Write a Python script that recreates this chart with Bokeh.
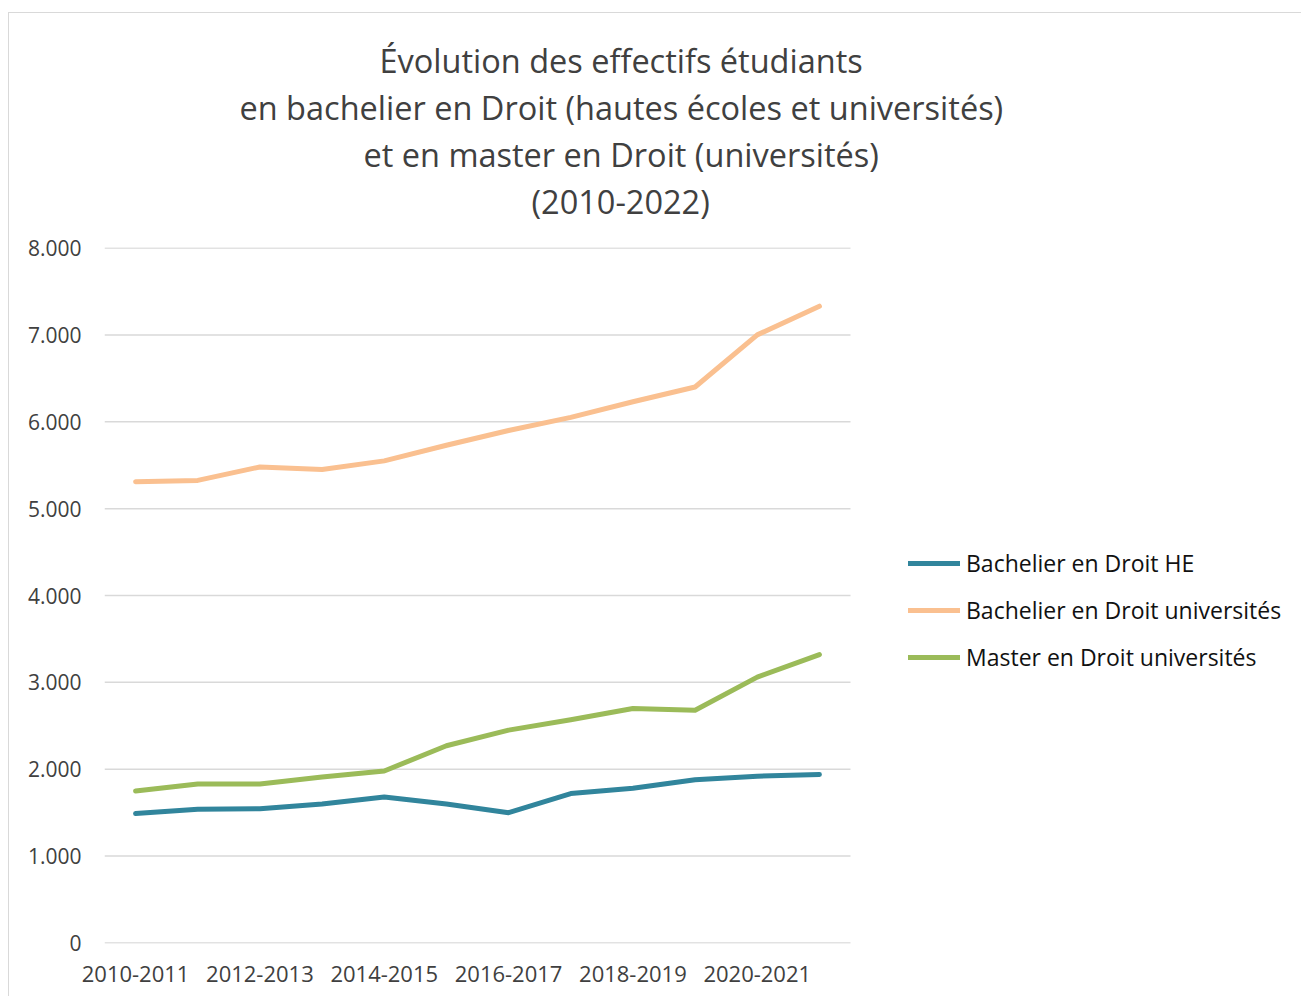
from bokeh.plotting import figure
from bokeh.models import Range1d, FixedTicker, Legend, LegendItem, Title
from bokeh.embed import file_html
from bokeh.resources import INLINE

categories = ["2010-2011", "2011-2012", "2012-2013", "2013-2014", "2014-2015", "2015-2016",
              "2016-2017", "2017-2018", "2018-2019", "2019-2020", "2020-2021", "2021-2022"]
bachelier_he = [1490, 1540, 1545, 1600, 1680, 1600, 1500, 1720, 1780, 1880, 1920, 1940]
bachelier_univ = [5310, 5325, 5480, 5450, 5550, 5730, 5900, 6050, 6230, 6400, 7000, 7330]
master_univ = [1750, 1830, 1830, 1910, 1980, 2270, 2450, 2570, 2700, 2680, 3060, 3320]
series_names = ["Bachelier en Droit HE", "Bachelier en Droit universités", "Master en Droit universités"]
series_colors = ["#31859C", "#FAC090", "#9BBB59"]
y_ticks = [0, 1000, 2000, 3000, 4000, 5000, 6000, 7000, 8000]
y_tick_labels = ["0", "1.000", "2.000", "3.000", "4.000", "5.000", "6.000", "7.000", "8.000"]
x_tick_idx = [0, 2, 4, 6, 8, 10]
title_lines = ["Évolution des effectifs étudiants",
               "en bachelier en Droit (hautes écoles et universités)",
               "et en master en Droit (universités)",
               "(2010-2022)"]
title_offsets = [275, 135, 259, 427]

FONT = "Open Sans"
n = len(categories)
x = list(range(n))

# layout: plotting area of the lines is 746px wide; the frame extends to the right edge
# so that the legend can sit inside it
FIG_W, FIG_H = 1293, 984
LEFT, RIGHT = 95, 0
DATA_W = 746
frame_w = FIG_W - LEFT - RIGHT
x_end = -0.5 + n * frame_w / DATA_W

p = figure(width=FIG_W, height=FIG_H, output_backend="svg", toolbar_location=None,
           x_range=Range1d(-0.5, x_end), y_range=Range1d(-6, 8006),
           min_border_left=LEFT, min_border_right=RIGHT, min_border_top=234, min_border_bottom=54)
p.styles = {"border-top": "1px solid #d9d9d9", "border-left": "1px solid #d9d9d9",
            "margin-top": "12px", "margin-left": "8px"}
p.outline_line_color = None
p.background_fill_color = "white"
p.border_fill_color = "white"

# horizontal gridlines limited to the categories' extent
p.segment(x0=[-0.5] * len(y_ticks), x1=[n - 0.5] * len(y_ticks), y0=y_ticks, y1=y_ticks,
          line_color="#d9d9d9", line_width=1.5)

renderers = []
for vals, col in zip([bachelier_he, bachelier_univ, master_univ], series_colors):
    r = p.line(x, vals, line_color=col, line_width=5, line_join="round", line_cap="round")
    renderers.append(r)

# axes
p.xaxis.ticker = FixedTicker(ticks=x_tick_idx)
p.xaxis.major_label_overrides = {i: categories[i] for i in x_tick_idx}
p.yaxis.ticker = FixedTicker(ticks=y_ticks)
p.yaxis.major_label_overrides = {t: l for t, l in zip(y_ticks, y_tick_labels)}
for ax in (p.xaxis, p.yaxis):
    ax.axis_line_color = None
    ax.major_tick_line_color = None
    ax.minor_tick_line_color = None
    ax.major_label_text_font = FONT
    ax.major_label_text_color = "#404040"
p.xaxis.major_label_text_font_size = "22px"
p.yaxis.major_label_text_font_size = "21px"
p.xaxis.major_label_standoff = 16
p.yaxis.major_label_standoff = 17
p.xgrid.grid_line_color = None
p.ygrid.grid_line_color = None

# spacer between frame and title block
p.add_layout(Title(text=" ", text_font_size="1px", standoff=21), "above")
# multi-line title: first added is nearest the frame
for i in reversed(range(len(title_lines))):
    t = Title(text=title_lines[i], align="left", offset=title_offsets[i],
              text_font=FONT, text_font_size="32.5px", text_font_style="normal",
              text_color="#404040", standoff=0)
    p.add_layout(t, "above")

legend = Legend(items=[LegendItem(label=s, renderers=[r]) for s, r in zip(series_names, renderers)],
                location=(804, 270), orientation="vertical")
legend.label_text_font = FONT
legend.label_text_font_size = "23px"
legend.label_text_color = "#111111"
legend.glyph_width = 52
legend.glyph_height = 22
legend.label_height = 22
legend.label_standoff = 6
legend.spacing = 15
legend.padding = 0
legend.margin = 0
legend.border_line_color = None
legend.background_fill_alpha = 0
p.add_layout(legend, "center")

open("out.html", "w").write(file_html(p, INLINE))
